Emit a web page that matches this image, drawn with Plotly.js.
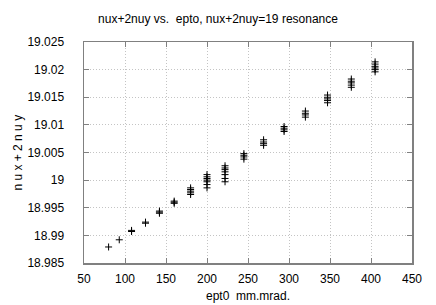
<!DOCTYPE html>
<html>
<head>
<meta charset="utf-8">
<script src="https://cdn.plot.ly/plotly-3.0.1.min.js"></script>
<style>html,body{margin:0;padding:0;background:#fff;}#chart{width:436px;height:305px;}</style>
</head>
<body>
<div id="chart"></div>
<script>
var ept0 = [
  80,
  93,
  108, 108,
  125, 125,
  142, 142, 142,
  160, 160, 160,
  180, 180, 180, 180, 180,
  200, 200, 200, 200, 200, 200, 200,
  222, 222, 222, 222, 222, 222, 222,
  245, 245, 245, 245,
  269, 269, 269, 269,
  294, 294, 294, 294,
  320, 320, 320, 320,
  347, 347, 347, 347, 347,
  376, 376, 376, 376, 376,
  405, 405, 405, 405, 405, 405
];
var nuxPlus2nuy = [
  18.9879,
  18.9892,
  18.9907, 18.9909,
  18.9922, 18.9924,
  18.9940, 18.9942, 18.9944,
  18.9958, 18.9960, 18.9962,
  18.9974, 18.9977, 18.9980, 18.9983, 18.9986,
  18.9986, 18.9992, 18.9997, 19.0000, 19.0003, 19.0006, 19.0010,
  18.9997, 19.0003, 19.0010, 19.0015, 19.0019, 19.0022, 19.0026,
  19.0038, 19.0042, 19.0045, 19.0048,
  19.0063, 19.0066, 19.0069, 19.0073,
  19.0088, 19.0091, 19.0094, 19.0097,
  19.0114, 19.0118, 19.0121, 19.0125,
  19.0140, 19.0144, 19.0147, 19.0150, 19.0154,
  19.0168, 19.0172, 19.0176, 19.0179, 19.0183,
  19.0196, 19.0200, 19.0203, 19.0206, 19.0210, 19.0214
];
var xTicks = [50, 100, 150, 200, 250, 300, 350, 400, 450];
var yTicks = [18.985, 18.99, 18.995, 19, 19.005, 19.01, 19.015, 19.02, 19.025];
var yTickText = ["18.985", "18.99", "18.995", "19", "19.005", "19.01", "19.015", "19.02", "19.025"];

var font = {family: "Liberation Sans, Arial, sans-serif", size: 12, color: "#000"};
var axisCommon = {
  showline: true, mirror: "ticks", linecolor: "#808080", linewidth: 1.5,
  ticks: "inside", ticklen: 5, tickcolor: "#808080", tickwidth: 1,
  showgrid: true, gridcolor: "#c4c4c4", griddash: "1px,2px", gridwidth: 1,
  zeroline: false, tickfont: font
};
var xaxis = Object.assign({}, axisCommon, {
  range: [50, 450], tickvals: xTicks, ticktext: xTicks.map(String),
  ticklabelstandoff: 4,
  title: {text: "ept0  mm.mrad.", font: font, standoff: 6}
});
var yaxis = Object.assign({}, axisCommon, {
  range: [18.985, 19.025], tickvals: yTicks, ticktext: yTickText,
  ticklabelstandoff: 16
});

Plotly.newPlot("chart", [{
  x: ept0, y: nuxPlus2nuy, type: "scatter", mode: "markers",
  marker: {symbol: "cross-thin-open", size: 5, color: "#000", line: {color: "#000", width: 1}},
  hoverinfo: "none"
}], {
  width: 436, height: 305,
  margin: {l: 84, r: 24, t: 42, b: 42},
  paper_bgcolor: "#fff", plot_bgcolor: "#fff",
  title: {text: "nux+2nuy vs.  epto, nux+2nuy=19 resonance", font: font, x: 0.5, xanchor: "center", y: 0.938, yanchor: "middle"},
  xaxis: xaxis, yaxis: yaxis, showlegend: false,
  annotations: [{
    text: "n u x + 2 n u y", font: font, textangle: -90,
    xref: "paper", yref: "paper", x: -0.204, y: 0.5,
    xanchor: "center", yanchor: "middle", showarrow: false
  }]
}, {staticPlot: true, displayModeBar: false});
</script>
</body>
</html>
